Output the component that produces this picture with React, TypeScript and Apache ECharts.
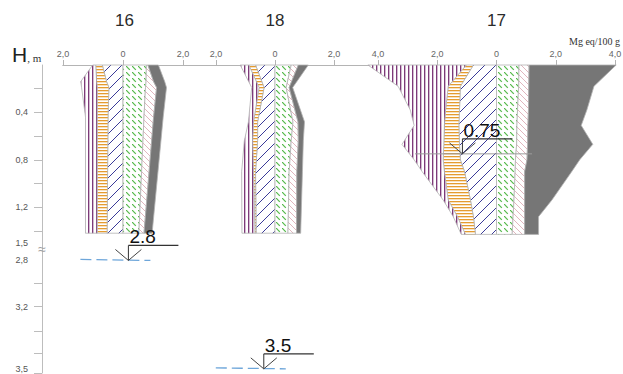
import React, { useEffect, useRef } from "react";
import * as echarts from "echarts";

// ---------- data (meq/100 g) ----------
const PROFILE_NAMES = ["16", "18", "17"];

const DEPTH_16 = [0, 0.14, 0.19, 0.44, 1.42];
const SO4_16 = [0.1, 0.53, 0.52, 0.39, 0.39];
const CL_16 = [0.22, 0.33, 0.39, 0.36, 0.33];
const HCO3_16 = [0.69, 0.55, 0.47, 0.5, 0.53];
const CA_16 = [0.78, 0.77, 0.75, 0.7, 0.53];
const MG_16 = [0.05, 0.25, 0.37, 0.32, 0.17];
const NA_16 = [0.35, 0.37, 0.33, 0.32, 0.27];

const DEPTH_18 = [0, 0.19, 0.48, 0.64, 0.9, 1.42];
const SO4_18 = [0.29, 0.25, 0.17, 0.28, 0.4, 0.44];
const CL_18 = [0.23, 0.17, 0.14, 0.17, 0.07, 0.04];
const HCO3_18 = [0.66, 0.37, 0.59, 0.59, 0.66, 0.64];
const CA_18 = [0.55, 0.38, 0.61, 0.55, 0.48, 0.44];
const MG_18 = [0.24, 0.1, 0.17, 0.24, 0.26, 0.29];
const NA_18 = [0.34, 0.12, 0.22, 0.17, 0.19, 0.14];

const DEPTH_17 = [0, 0.18, 0.38, 0.51, 0.67, 0.8, 0.9, 1.14, 1.28, 1.43];
const SO4_17 = [3.32, 1.69, 1.19, 1.02, 1.41, 0.98, 0.75, 0.17, 0.14, 0.14];
const CL_17 = [0.24, 0.41, 0.47, 0.49, 0.53, 0.58, 0.68, 0.75, 0.54, 0.34];
const HCO3_17 = [0.78, 1.22, 1.25, 1.27, 1.25, 1.22, 1.08, 0.88, 0.78, 0.71];
const CA_17 = [0.76, 0.75, 0.71, 0.69, 0.68, 0.64, 0.63, 0.59, 0.56, 0.53];
const MG_17 = [0.34, 0.34, 0.37, 0.37, 0.37, 0.39, 0.32, 0.36, 0.39, 0.42];
const NA_17 = [2.94, 2.2, 1.97, 1.8, 2.2, 1.78, 1.59, 0.92, 0.47, 0.47];

// ground-water levels
const WATER_PROFILE = [0, 1, 2];
const WATER_DEPTH = [2.8, 3.5, 0.75];
const WATER_X = [0.18, -0.38, -1.15];
const WATER_TEXT = ["2.8", "3.5", "0.75"];
const WATER_SURFACE = [true, true, false];
const WATER_LINE_FROM = [0, 0, -2.75];
const WATER_LINE_TO = [0, 0, 1.2];

// axes
const X_MIN = [-2, -2, -4];
const X_MAX = [2.1, 2, 4];
const X_TICKS = [[-2, 0, 2], [-2, 0, 2], [-4, -2, 0, 2, 4]];
const Y_MAX = 2.6;
const Y_TICK_POS = [0.2, 0.4, 0.6, 0.8, 1.0, 1.2, 1.4, 1.84, 2.04, 2.25, 2.43, 2.6];
const Y_LABEL_DEPTH = [0.4, 0.8, 1.2, 1.5, 2.8, 3.2, 3.5];
const Y_LABEL_TEXT = ["0,4", "0,8", "1,2", "1,5", "2,8", "3,2", "3,5"];
const BREAK_DEPTH = [2.8, 3.2, 3.5];
const BREAK_AXIS = [1.65, 2.04, 2.565];
const BREAK_MARK = 1.553;

// ---------- helpers ----------
function toAxis(d: number) {
  if (d <= 1.5) return d;
  for (let i = 1; i < BREAK_DEPTH.length; i++) {
    if (d <= BREAK_DEPTH[i]) {
      const t = (d - BREAK_DEPTH[i - 1]) / (BREAK_DEPTH[i] - BREAK_DEPTH[i - 1]);
      return BREAK_AXIS[i - 1] + t * (BREAK_AXIS[i] - BREAK_AXIS[i - 1]);
    }
  }
  return BREAK_AXIS[BREAK_AXIS.length - 1];
}

function makePattern(w: number, h: number, draw: (c: CanvasRenderingContext2D) => void) {
  const cv = document.createElement("canvas");
  cv.width = w;
  cv.height = h;
  const c = cv.getContext("2d")!;
  c.fillStyle = "#ffffff";
  c.fillRect(0, 0, w, h);
  draw(c);
  return { image: cv, repeat: "repeat", imageWidth: w, imageHeight: h } as any;
}

function diag(c: CanvasRenderingContext2D, s: number, back: boolean) {
  c.beginPath();
  if (back) {
    c.moveTo(0, 0); c.lineTo(s, s);
    c.moveTo(-1, s - 1); c.lineTo(1, s + 1);
    c.moveTo(s - 1, -1); c.lineTo(s + 1, 1);
  } else {
    c.moveTo(0, s); c.lineTo(s, 0);
    c.moveTo(-1, 1); c.lineTo(1, -1);
    c.moveTo(s - 1, s + 1); c.lineTo(s + 1, s - 1);
  }
  c.stroke();
}

const FONT = "Liberation Sans, Arial, Helvetica, sans-serif";
const SERIF = "Liberation Serif, Times New Roman, serif";

function buildOption() {
  const purple = makePattern(4, 4, (c) => {
    c.fillStyle = "#7d3a79"; c.fillRect(0, 0, 1, 4);
    c.fillStyle = "rgba(125,58,121,0.35)"; c.fillRect(1, 0, 1, 4);
  });
  const orange = makePattern(4, 3, (c) => {
    c.fillStyle = "#e59c30"; c.fillRect(0, 0, 4, 1);
    c.fillStyle = "rgba(229,156,48,0.3)"; c.fillRect(0, 1, 4, 1);
  });
  const blue = makePattern(11, 11, (c) => {
    c.strokeStyle = "#3a3a98"; c.lineWidth = 1; diag(c, 11, false);
  });
  const green = makePattern(6, 6, (c) => {
    c.strokeStyle = "#55b94b"; c.lineWidth = 1.2;
    c.beginPath(); c.moveTo(0, 0); c.lineTo(3.8, 3.8); c.stroke();
  });
  const pink = makePattern(6, 6, (c) => {
    c.strokeStyle = "#d9a3ad"; c.lineWidth = 0.8; diag(c, 6, true);
  });
  const gray = "#767676";
  const fills = [blue, orange, purple, green, pink, gray];

  const profiles = [
    { depth: DEPTH_16, left: [HCO3_16, CL_16, SO4_16], right: [CA_16, MG_16, NA_16] },
    { depth: DEPTH_18, left: [HCO3_18, CL_18, SO4_18], right: [CA_18, MG_18, NA_18] },
    { depth: DEPTH_17, left: [HCO3_17, CL_17, SO4_17], right: [CA_17, MG_17, NA_17] },
  ];
  const GRID_LEFT = [63, 216, 378];
  const GRID_WIDTH = [123, 118, 237];
  const TOP = 65, HEIGHT = 308;
  const gridBase = { containLabel: false, outerBoundsMode: "none" };

  const grid: any[] = [
    { ...gridBase, left: 42, top: TOP, width: 10, height: HEIGHT },
    { ...gridBase, left: 63, top: TOP, width: 552, height: HEIGHT },
  ];
  const xAxis: any[] = [
    { gridIndex: 0, type: "value", min: 0, max: 1, show: false },
    {
      gridIndex: 1, type: "value", min: 0, max: 1, position: "top",
      axisLine: { show: true, lineStyle: { color: "#b4b4b4", width: 1 } },
      axisTick: { show: false }, axisLabel: { show: false }, splitLine: { show: false },
    },
  ];
  const yAxis: any[] = [
    {
      gridIndex: 0, type: "value", inverse: true, min: 0, max: Y_MAX, position: "left",
      axisLine: { show: true, lineStyle: { color: "#bdbdbd", width: 1 } },
      axisTick: { show: true, length: 8, lineStyle: { color: "#bdbdbd" }, customValues: Y_TICK_POS },
      axisLabel: {
        show: true, fontSize: 9, color: "#555", margin: 14, fontFamily: FONT,
        customValues: Y_LABEL_DEPTH.map(toAxis),
        formatter: (v: number) => {
          const i = Y_LABEL_DEPTH.findIndex((d) => Math.abs(toAxis(d) - v) < 1e-6);
          return i >= 0 ? Y_LABEL_TEXT[i] : "";
        },
      },
      splitLine: { show: false },
    },
    { gridIndex: 1, type: "value", inverse: true, min: 0, max: Y_MAX, show: false },
  ];
  const series: any[] = [];

  profiles.forEach((prof, p) => {
    const g = p + 2;
    grid.push({ ...gridBase, left: GRID_LEFT[p], top: TOP, width: GRID_WIDTH[p], height: HEIGHT });
    xAxis.push({
      gridIndex: g, type: "value", min: X_MIN[p], max: X_MAX[p], position: "top",
      name: PROFILE_NAMES[p], nameLocation: "middle", nameGap: 36,
      nameTextStyle: { fontSize: 17, color: "#2b2b2b", fontFamily: FONT },
      axisLine: { show: true, lineStyle: { color: "#b4b4b4", width: 1 } },
      axisTick: { show: true, length: 5, lineStyle: { color: "#b4b4b4" }, customValues: X_TICKS[p] },
      axisLabel: {
        show: true, fontSize: 9, color: "#666", margin: 7, fontFamily: FONT,
        customValues: X_TICKS[p],
        formatter: (v: number) => (v === 0 ? "0" : Math.abs(v).toFixed(1).replace(".", ",")),
      },
      splitLine: { show: false },
    });
    yAxis.push({ gridIndex: g, type: "value", inverse: true, min: 0, max: Y_MAX, show: false });

    const n = prof.depth.length;
    series.push({
      type: "custom",
      xAxisIndex: g,
      yAxisIndex: g,
      clip: false,
      silent: true,
      data: [[0, 0], [1, 0], [2, 0], [3, 0], [4, 0], [5, 0]],
      renderItem: (params: any, api: any) => {
        const k = params.dataIndex;
        const side = k < 3 ? -1 : 1;
        const layers = k < 3 ? prof.left : prof.right;
        const j = k % 3;
        const inner = prof.depth.map((_, r) => {
          let s = 0;
          for (let q = 0; q < j; q++) s += layers[q][r];
          return s;
        });
        const outer = inner.map((s, r) => s + layers[j][r]);
        const pts: number[][] = [];
        for (let r = 0; r < n; r++) pts.push(api.coord([side * inner[r], toAxis(prof.depth[r])]));
        for (let r = n - 1; r >= 0; r--) pts.push(api.coord([side * outer[r], toAxis(prof.depth[r])]));
        return {
          type: "polygon",
          shape: { points: pts },
          style: { fill: fills[k], stroke: "#b3b3b3", lineWidth: 0.8 },
        };
      },
    });
  });

  // water levels
  WATER_DEPTH.forEach((d, i) => {
    const g = WATER_PROFILE[i] + 2;
    series.push({
      type: "custom",
      xAxisIndex: g,
      yAxisIndex: g,
      clip: false,
      silent: true,
      z: 5,
      data: [[WATER_X[i], toAxis(d)]],
      renderItem: (params: any, api: any) => {
        const [tx, ty] = api.coord([api.value(0), api.value(1)]);
        const children: any[] = [];
        if (WATER_LINE_FROM[i] !== WATER_LINE_TO[i]) {
          const a = api.coord([WATER_LINE_FROM[i], api.value(1)]);
          const b = api.coord([WATER_LINE_TO[i], api.value(1)]);
          children.push({ type: "line", shape: { x1: a[0], y1: a[1], x2: b[0], y2: b[1] }, style: { stroke: "#9a9a9a", lineWidth: 1 } });
        }
        if (WATER_SURFACE[i]) {
          children.push({
            type: "line",
            shape: { x1: tx - 48, y1: ty - 1, x2: tx + 22, y2: ty },
            style: { stroke: "#6ea6da", lineWidth: 1.3, lineDash: [11, 5] },
          });
        }
        children.push(
          { type: "line", shape: { x1: tx, y1: ty - 15, x2: tx, y2: ty }, style: { stroke: "#333", lineWidth: 1 } },
          { type: "line", shape: { x1: tx, y1: ty - 15, x2: tx + 50, y2: ty - 15 }, style: { stroke: "#333", lineWidth: 1.2 } },
          { type: "polyline", shape: { points: [[tx - 13, ty - 11], [tx, ty], [tx + 13, ty - 11]] }, style: { stroke: "#444", lineWidth: 1, fill: null } },
          {
            type: "text", x: tx + 1, y: ty - 14,
            style: { text: WATER_TEXT[i], fontSize: 19, fill: "#111", fontFamily: FONT, verticalAlign: "bottom", align: "left" },
          }
        );
        return { type: "group", children };
      },
    });
  });

  // axis break mark
  series.push({
    type: "custom",
    xAxisIndex: 0,
    yAxisIndex: 0,
    clip: false,
    silent: true,
    data: [[0, BREAK_MARK]],
    renderItem: (params: any, api: any) => {
      const [x, y] = api.coord([api.value(0), api.value(1)]);
      return {
        type: "text", x, y,
        style: { text: "≈", fontSize: 14, fill: "#a0a0a0", align: "center", verticalAlign: "middle", fontFamily: FONT },
      };
    },
  });

  return {
    animation: false,
    backgroundColor: "#ffffff",
    grid,
    xAxis,
    yAxis,
    series,
    graphic: [
      {
        type: "text", left: 12, top: 44,
        style: {
          text: "{a|H}{b|, m}",
          rich: {
            a: { fontSize: 21, fontFamily: FONT, fill: "#222", verticalAlign: "bottom" },
            b: { fontSize: 11, fontFamily: SERIF, fill: "#333", verticalAlign: "bottom", padding: [0, 0, 2, 0] },
          },
        } as any,
      },
      {
        type: "text", left: 569, top: 36,
        style: { text: "Mg eq/100 g", fontSize: 10, fontFamily: SERIF, fill: "#333" },
      },
    ],
  };
}

export default function App() {
  const ref = useRef<HTMLDivElement>(null);
  useEffect(() => {
    const chart = echarts.init(ref.current!, null, { renderer: "svg" });
    chart.setOption(buildOption() as any);
    return () => chart.dispose();
  }, []);
  return (
    <div
      ref={ref}
      style={{ position: "fixed", left: 0, top: 0, width: 623, height: 374, background: "#fff" }}
    />
  );
}
